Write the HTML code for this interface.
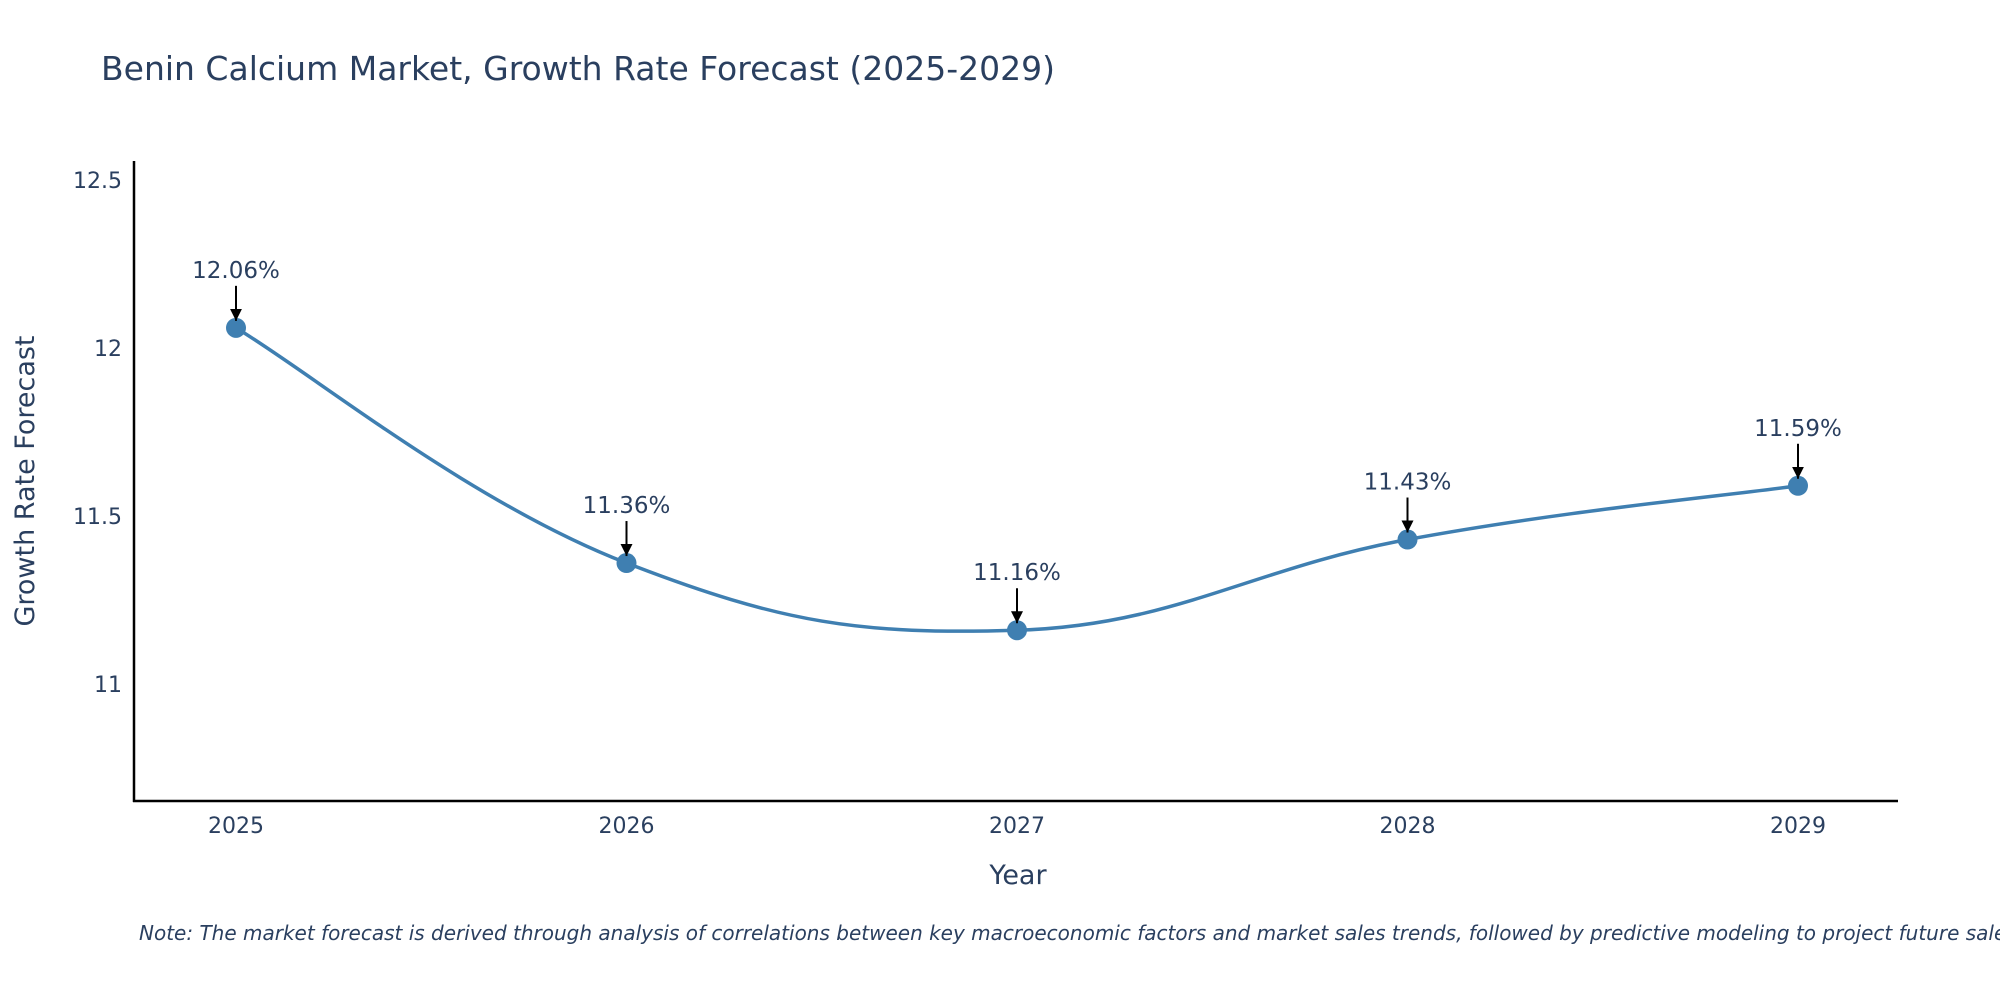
<!DOCTYPE html>
<html><head><meta charset="utf-8"><style>
html,body{margin:0;padding:0;background:#fff;overflow:hidden;}
svg text{font-family:"DejaVu Sans","Liberation Sans",sans-serif;fill:#2a3f5f;}
</style></head><body>
<svg width="2000" height="1000" viewBox="0 0 2000 1000" xmlns="http://www.w3.org/2000/svg">
<defs><marker id="ah" markerWidth="12" markerHeight="12" refX="10" refY="5" orient="auto" markerUnits="userSpaceOnUse" viewBox="0 0 10 10"><path d="M0,0 L10,5 L0,10 Z" fill="#000"/></marker></defs>
<text x="101" y="80" font-size="33">Benin Calcium Market, Growth Rate Forecast (2025-2029)</text>
<g id="yticks"></g>
<g id="xticks"></g>
<line x1="134" y1="161" x2="134" y2="802" stroke="#000" stroke-width="2.5"/>
<line x1="133" y1="801" x2="1898" y2="801" stroke="#000" stroke-width="2.5"/>
<text x="0" y="0" font-size="27" text-anchor="middle" transform="translate(34,481) rotate(-90)">Growth Rate Forecast</text>
<text x="1018" y="884" font-size="27" text-anchor="middle">Year</text>
<g id="series"></g>
<text x="139" y="940" font-size="20" font-style="italic">Note: The market forecast is derived through analysis of correlations between key macroeconomic factors and market sales trends, followed by predictive modeling to project future sales.</text>
</svg>
<script>
const years = [2025, 2026, 2027, 2028, 2029];
const values = [12.06, 11.36, 11.16, 11.43, 11.59];
const valueLabels = ["12.06%", "11.36%", "11.16%", "11.43%", "11.59%"];
const yTickValues = [11, 11.5, 12, 12.5];
const yTickLabels = ["11", "11.5", "12", "12.5"];

const NS = "http://www.w3.org/2000/svg";
function xs(v){ return 236 + (v - 2025) * (1798 - 236) / 4; }
function ys(v){ return 684 - (v - 11) * 336; }
function mk(tag, attrs, parent){ const e = document.createElementNS(NS, tag); for (const k in attrs) e.setAttribute(k, attrs[k]); parent.appendChild(e); return e; }

const yg = document.getElementById('yticks');
yTickValues.forEach((v, i) => {
  const t = mk('text', {x: 122, y: ys(v) + 8, 'font-size': 22, 'text-anchor': 'end'}, yg);
  
  
  t.textContent = yTickLabels[i];
});
const xg = document.getElementById('xticks');
years.forEach(y => {
  const t = mk('text', {x: xs(y), y: 833, 'font-size': 22, 'text-anchor': 'middle'}, xg);
  
  
  t.textContent = String(y);
});

const sg = document.getElementById('series');
const pts = years.map((y, i) => [xs(y), ys(values[i])]);
let d = 'M' + pts[0][0] + ',' + pts[0][1];
const s = 0.2;
for (let i = 0; i < pts.length - 1; i++) {
  const p0 = pts[Math.max(0, i - 1)], p1 = pts[i], p2 = pts[i + 1], p3 = pts[Math.min(pts.length - 1, i + 2)];
  const c1 = [p1[0] + (p2[0] - p0[0]) * s, p1[1] + (p2[1] - p0[1]) * s];
  const c2 = [p2[0] - (p3[0] - p1[0]) * s, p2[1] - (p3[1] - p1[1]) * s];
  d += ' C' + c1[0] + ',' + c1[1] + ' ' + c2[0] + ',' + c2[1] + ' ' + p2[0] + ',' + p2[1];
}
const line = mk('path', {d: d, fill: 'none', stroke: '#3f7fb1', 'stroke-width': 3.5}, sg);


pts.forEach((p, i) => {
  const c = mk('circle', {cx: p[0], cy: p[1], r: 10, fill: '#3f7fb1'}, sg);
  
  
  const a = mk('line', {x1: p[0], y1: p[1] - 42, x2: p[0], y2: p[1] - 7, stroke: '#000', 'stroke-width': 2, 'marker-end': 'url(#ah)'}, sg);
  
  
  const t = mk('text', {x: p[0], y: p[1] - 50, 'font-size': 23, 'text-anchor': 'middle'}, sg);
  
  
  t.textContent = valueLabels[i];
});
</script>
</body></html>
